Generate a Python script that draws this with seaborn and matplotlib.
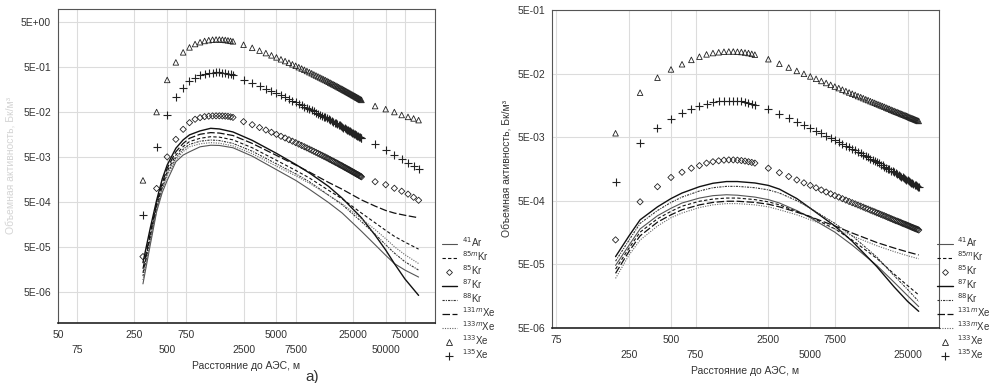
import numpy as np
import pandas as pd
import seaborn as sns
import matplotlib.pyplot as plt
from matplotlib.lines import Line2D
from matplotlib.ticker import NullLocator

# distances, m
x_near_a = [300, 400, 500, 600, 700, 800, 900, 1000, 1100, 1200, 1300, 1400, 1500,
            1600, 1700, 1800, 1900, 2000]
x_near_b = [200] + x_near_a
x_mid = [2500, 3000, 3500, 4000, 4500, 5000, 5500, 6000, 6500, 7000, 7500, 8000,
         8500, 9000, 9500, 10000, 10500, 11000, 11500, 12000, 12500, 13000, 13500,
         14000, 14500, 15000, 15500, 16000, 16500, 17000, 17500, 18000, 18500,
         19000, 19500, 20000, 20500, 21000, 21500, 22000, 22500, 23000, 23500,
         24000, 24500, 25000, 25500, 26000, 26500, 27000, 27500, 28000, 28500,
         29000, 29500, 30000]
x_far = [40000, 50000, 60000, 70000, 80000, 90000, 100000]

x_a = x_near_a + x_mid + x_far
x_b = x_near_b + x_mid

# panel a) markers
xe133_a = [1.5e-3, 5.0e-2, 0.26, 0.64, 1.07, 1.38, 1.64, 1.80, 1.92, 2.0, 2.05, 2.07, 2.07,
           2.05, 2.02, 1.98, 1.93, 1.88,
           1.58, 1.35, 1.17, 1.03, 0.918, 0.826, 0.748, 0.684, 0.628, 0.579, 0.537, 0.500,
           0.467, 0.437, 0.411, 0.387, 0.366, 0.345, 0.327, 0.311, 0.296, 0.282, 0.269,
           0.258, 0.247, 0.236, 0.226, 0.217, 0.209, 0.201, 0.194, 0.187, 0.180, 0.174,
           0.168, 0.163, 0.157, 0.152, 0.148, 0.143, 0.139, 0.135, 0.131, 0.127, 0.124,
           0.120, 0.117, 0.114, 0.111, 0.108, 0.105, 0.103, 0.100, 0.0977, 0.0953, 0.0931,
           0.068, 0.058, 0.050, 0.043, 0.039, 0.036, 0.033]
xe135_a = [2.6e-4, 8.3e-3, 4.2e-2, 0.109, 0.17, 0.24, 0.29, 0.33, 0.355, 0.37, 0.38, 0.385,
           0.385, 0.38, 0.37, 0.36, 0.345, 0.33,
           0.261, 0.220, 0.188, 0.165, 0.146, 0.130, 0.117, 0.107, 0.0973, 0.0892, 0.0822,
           0.0765, 0.0710, 0.0664, 0.0621, 0.0584, 0.0549, 0.0518, 0.0487, 0.0463, 0.0438,
           0.0417, 0.0395, 0.0379, 0.0363, 0.0345, 0.0330, 0.0317, 0.0303, 0.0291, 0.0281,
           0.0269, 0.0259, 0.0251, 0.0240, 0.0233, 0.0225, 0.0216, 0.0210, 0.0203, 0.0197,
           0.0192, 0.0185, 0.0179, 0.0175, 0.0169, 0.0165, 0.0160, 0.0155, 0.0151, 0.0147,
           0.0144, 0.0140, 0.0137, 0.0133, 0.0130,
           9.7e-3, 7.1e-3, 5.6e-3, 4.5e-3, 3.6e-3, 3.1e-3, 2.7e-3]
kr85_a = [3.0e-5, 9.9e-4, 5.0e-3, 1.23e-2, 2.06e-2, 2.9e-2, 3.45e-2, 3.75e-2, 3.95e-2,
          4.05e-2, 4.1e-2, 4.12e-2, 4.12e-2, 4.1e-2, 4.05e-2, 4.0e-2, 3.9e-2, 3.8e-2,
          3.05e-2, 2.61e-2, 2.26e-2, 1.99e-2, 1.77e-2, 1.59e-2, 1.44e-2, 1.32e-2, 1.21e-2,
          1.12e-2, 1.04e-2, 9.65e-3, 9.01e-3, 8.43e-3, 7.93e-3, 7.47e-3, 7.06e-3, 6.66e-3,
          6.31e-3, 6.00e-3, 5.71e-3, 5.44e-3, 5.19e-3, 4.98e-3, 4.77e-3, 4.55e-3, 4.36e-3,
          4.19e-3, 4.03e-3, 3.88e-3, 3.74e-3, 3.61e-3, 3.47e-3, 3.36e-3, 3.24e-3, 3.15e-3,
          3.03e-3, 2.93e-3, 2.86e-3, 2.76e-3, 2.68e-3, 2.61e-3, 2.53e-3, 2.45e-3, 2.39e-3,
          2.32e-3, 2.26e-3, 2.20e-3, 2.14e-3, 2.08e-3, 2.03e-3, 1.99e-3, 1.93e-3, 1.89e-3,
          1.84e-3, 1.80e-3,
          1.4e-3, 1.2e-3, 1.0e-3, 8.6e-4, 7.4e-4, 6.3e-4, 5.4e-4]

# panel a) lines
xl_a = [300, 350, 400, 450, 500, 600, 700, 800, 1000, 1250, 1500, 2000, 3000, 5000,
        7500, 10000, 15000, 20000, 30000, 40000, 50000, 60000, 75000, 100000]
kr87_a = [2.2e-5, 1.3e-4, 5.4e-4, 1.6e-3, 3.3e-3, 7.8e-3, 1.2e-2, 1.55e-2, 1.9e-2, 2.17e-2,
          2.1e-2, 1.8e-2, 1.17e-2, 6.0e-3, 3.4e-3, 2.2e-3, 1.1e-3, 6.0e-4, 2.2e-4, 9.0e-5,
          4.2e-5, 2.1e-5, 9.5e-6, 4.1e-6]
xe131m_a = [1.6e-5, 1.0e-4, 4.6e-4, 1.3e-3, 2.8e-3, 6.5e-3, 1.0e-2, 1.3e-2, 1.6e-2, 1.74e-2,
            1.7e-2, 1.5e-2, 1.0e-2, 5.4e-3, 3.3e-3, 2.3e-3, 1.35e-3, 9.5e-4, 5.5e-4, 4.0e-4,
            3.2e-4, 2.8e-4, 2.5e-4, 2.2e-4]
kr85m_a = [1.3e-5, 8.5e-5, 4.0e-4, 1.1e-3, 2.4e-3, 5.5e-3, 8.5e-3, 1.1e-2, 1.3e-2, 1.41e-2,
           1.38e-2, 1.2e-2, 8.0e-3, 4.2e-3, 2.5e-3, 1.7e-3, 9.0e-4, 5.8e-4, 2.8e-4, 1.7e-4,
           1.15e-4, 8.5e-5, 6.3e-5, 4.4e-5]
kr88_a = [1.1e-5, 7.5e-5, 3.6e-4, 1.0e-3, 2.1e-3, 4.8e-3, 7.4e-3, 9.5e-3, 1.12e-2, 1.19e-2,
          1.16e-2, 1.0e-2, 6.7e-3, 3.5e-3, 2.1e-3, 1.4e-3, 7.0e-4, 4.3e-4, 1.8e-4, 9.5e-5,
          5.5e-5, 3.6e-5, 2.3e-5, 1.5e-5]
xe133m_a = [9e-6, 6.5e-5, 3.2e-4, 9.0e-4, 1.9e-3, 4.3e-3, 6.6e-3, 8.4e-3, 9.8e-3, 1.04e-2,
            1.01e-2, 8.8e-3, 5.9e-3, 3.1e-3, 1.9e-3, 1.3e-3, 7.0e-4, 4.5e-4, 2.1e-4, 1.2e-4,
            7.5e-5, 5.0e-5, 3.3e-5, 2.1e-5]
ar41_a = [7.4e-6, 5.5e-5, 3.0e-4, 8.0e-4, 1.5e-3, 3.9e-3, 5.5e-3, 6.5e-3, 8.4e-3, 9.1e-3,
          9.0e-3, 8.0e-3, 5.2e-3, 2.6e-3, 1.5e-3, 9.5e-4, 4.8e-4, 2.8e-4, 1.1e-4, 5.5e-5,
          3.2e-5, 2.1e-5, 1.5e-5, 1.05e-5]

# panel b) markers
xe133_b = [5.75e-3, 2.5e-2, 4.3e-2, 5.8e-2, 7.0e-2, 8.2e-2, 9.2e-2, 0.100, 0.105, 0.108,
           0.110, 0.111, 0.111, 0.110, 0.109, 0.107, 0.105, 0.102, 0.099,
           0.0840, 0.0713, 0.0621, 0.0550, 0.0495, 0.0450, 0.0413, 0.0382, 0.0355, 0.0332,
           0.0312, 0.0295, 0.0279, 0.0265, 0.0252, 0.0241, 0.0231, 0.0221, 0.0213, 0.0205,
           0.0197, 0.0191, 0.0184, 0.0178, 0.0173, 0.0167, 0.0163, 0.0158, 0.0154, 0.0150,
           0.0146, 0.0142, 0.0139, 0.0135, 0.0132, 0.0129, 0.0126, 0.0124, 0.0121, 0.0119,
           0.0116, 0.0114, 0.0112, 0.0110, 0.0108, 0.0106, 0.0104, 0.0102, 0.0100, 0.00986,
           0.00970, 0.00954, 0.00939, 0.00925, 0.00911, 0.00897]
xe135_b = [1.0e-3, 4.1e-3, 7.0e-3, 9.5e-3, 1.19e-2, 1.39e-2, 1.55e-2, 1.68e-2, 1.77e-2,
           1.83e-2, 1.86e-2, 1.87e-2, 1.87e-2, 1.85e-2, 1.82e-2, 1.78e-2, 1.73e-2, 1.67e-2,
           1.61e-2,
           1.369e-2, 1.159e-2, 1.001e-2, 8.78e-3, 7.81e-3, 7.01e-3, 6.34e-3, 5.78e-3,
           5.30e-3, 4.89e-3, 4.53e-3, 4.23e-3, 3.94e-3, 3.69e-3, 3.47e-3, 3.27e-3, 3.09e-3,
           2.92e-3, 2.78e-3, 2.64e-3, 2.51e-3, 2.40e-3, 2.29e-3, 2.19e-3, 2.10e-3, 2.00e-3,
           1.93e-3, 1.85e-3, 1.79e-3, 1.72e-3, 1.66e-3, 1.59e-3, 1.55e-3, 1.49e-3, 1.44e-3,
           1.39e-3, 1.35e-3, 1.31e-3, 1.27e-3, 1.23e-3, 1.19e-3, 1.16e-3, 1.13e-3, 1.10e-3,
           1.07e-3, 1.04e-3, 1.01e-3, 9.84e-4, 9.57e-4, 9.36e-4, 9.13e-4, 8.90e-4, 8.69e-4,
           8.49e-4, 8.29e-4, 8.10e-4]
kr85_b = [1.21e-4, 4.8e-4, 8.3e-4, 1.16e-3, 1.4e-3, 1.62e-3, 1.78e-3, 1.95e-3, 2.05e-3,
          2.12e-3, 2.17e-3, 2.19e-3, 2.19e-3, 2.17e-3, 2.14e-3, 2.10e-3, 2.05e-3, 2.0e-3,
          1.95e-3,
          1.62e-3, 1.38e-3, 1.20e-3, 1.06e-3, 9.55e-4, 8.69e-4, 7.97e-4, 7.37e-4, 6.85e-4,
          6.41e-4, 6.02e-4, 5.69e-4, 5.38e-4, 5.11e-4, 4.86e-4, 4.65e-4, 4.46e-4, 4.27e-4,
          4.11e-4, 3.96e-4, 3.80e-4, 3.69e-4, 3.55e-4, 3.44e-4, 3.34e-4, 3.22e-4, 3.15e-4,
          3.05e-4, 2.97e-4, 2.90e-4, 2.82e-4, 2.74e-4, 2.68e-4, 2.61e-4, 2.55e-4, 2.49e-4,
          2.43e-4, 2.39e-4, 2.34e-4, 2.30e-4, 2.24e-4, 2.20e-4, 2.16e-4, 2.12e-4, 2.08e-4,
          2.05e-4, 2.01e-4, 1.97e-4, 1.93e-4, 1.90e-4, 1.87e-4, 1.84e-4, 1.81e-4, 1.79e-4,
          1.76e-4, 1.73e-4]

# panel b) lines
xl_b = [200, 250, 300, 400, 500, 600, 800, 1000, 1250, 1500, 2000, 2500, 3000, 4000,
        5000, 7500, 10000, 15000, 20000, 25000, 30000]
kr87_b = [6.6e-5, 1.4e-4, 2.5e-4, 4.0e-4, 5.4e-4, 6.6e-4, 8.3e-4, 9.4e-4, 1.0e-3, 1.0e-3,
          9.5e-4, 8.7e-4, 7.6e-4, 5.4e-4, 3.8e-4, 2.0e-4, 1.15e-4, 4.6e-5, 2.2e-5, 1.3e-5,
          9.1e-6]
kr88_b = [5.6e-5, 1.2e-4, 2.2e-4, 3.5e-4, 4.7e-4, 5.7e-4, 7.1e-4, 8.0e-4, 8.4e-4, 8.4e-4,
          8.0e-4, 7.4e-4, 6.6e-4, 5.0e-4, 3.8e-4, 2.2e-4, 1.4e-4, 6.5e-5, 3.3e-5, 2.0e-5,
          1.3e-5]
ar41_b = [4.8e-5, 1.0e-4, 1.8e-4, 2.9e-4, 3.8e-4, 4.6e-4, 5.5e-4, 6.0e-4, 6.2e-4, 6.1e-4,
          5.7e-4, 5.2e-4, 4.6e-4, 3.5e-4, 2.7e-4, 1.6e-4, 1.0e-4, 4.8e-5, 2.6e-5, 1.6e-5,
          1.08e-5]
kr85m_b = [4.2e-5, 9e-5, 1.6e-4, 2.6e-4, 3.4e-4, 4.1e-4, 4.9e-4, 5.3e-4, 5.5e-4, 5.5e-4,
           5.2e-4, 4.8e-4, 4.3e-4, 3.4e-4, 2.8e-4, 1.8e-4, 1.2e-4, 6.2e-5, 3.5e-5, 2.3e-5,
           1.65e-5]
xe131m_b = [3.6e-5, 8e-5, 1.4e-4, 2.3e-4, 3.0e-4, 3.6e-4, 4.3e-4, 4.7e-4, 4.9e-4, 4.9e-4,
            4.7e-4, 4.4e-4, 4.0e-4, 3.3e-4, 2.8e-4, 2.0e-4, 1.55e-4, 1.1e-4, 9.0e-5, 7.8e-5,
            7.0e-5]
xe133m_b = [3.0e-5, 7e-5, 1.2e-4, 2.0e-4, 2.7e-4, 3.2e-4, 3.9e-4, 4.3e-4, 4.5e-4, 4.5e-4,
            4.3e-4, 4.0e-4, 3.6e-4, 3.0e-4, 2.5e-4, 1.8e-4, 1.4e-4, 9.8e-5, 7.9e-5, 6.8e-5,
            6.1e-5]

# tick labels, upper and lower row
ticks_a_top = [50, 250, 750, 5000, 25000, 75000]
ticks_a_bot = [75, 500, 2500, 7500, 50000]
ticks_b_top = [75, 500, 2500, 7500]
ticks_b_bot = [250, 750, 5000, 25000]
yticks_a = [5e-6, 5e-5, 5e-4, 5e-3, 5e-2, 5e-1, 5e0]
ylabels_a = ["5E-06", "5E-05", "5E-04", "5E-03", "5E-02", "5E-01", "5E+00"]
yticks_b = [5e-6, 5e-5, 5e-4, 5e-3, 5e-2, 5e-1]
ylabels_b = ["5E-06", "5E-05", "5E-04", "5E-03", "5E-02", "5E-01"]

labels = [r"$^{41}$Ar", r"$^{85m}$Kr", r"$^{85}$Kr", r"$^{87}$Kr", r"$^{88}$Kr",
          r"$^{131m}$Xe", r"$^{133m}$Xe", r"$^{133}$Xe", r"$^{135}$Xe"]

sns.set_style("white")
plt.rcParams['font.family'] = ['Liberation Sans', 'DejaVu Sans']

line_styles = {
    "ar41": dict(color="#555555", lw=0.8, ls="-"),
    "kr85m": dict(color="#111111", lw=0.8, ls=(0, (3, 2))),
    "kr87": dict(color="#111111", lw=1.0, ls="-"),
    "kr88": dict(color="#333333", lw=0.8, ls=(0, (2, 1, 1, 1))),
    "xe131m": dict(color="#111111", lw=0.9, ls=(0, (6, 2))),
    "xe133m": dict(color="#666666", lw=0.8, ls=(0, (1, 1.2))),
}
mk_c = "#222222"
txt_c = "#333333"


def draw_panel(ax, x, xl, lines, xe133, xe135, kr85):
    for key, y in lines:
        sns.lineplot(x=xl, y=y, ax=ax, sort=False, estimator=None, **line_styles[key])
    sns.scatterplot(x=x, y=kr85, ax=ax, marker="D", s=10, facecolor="none",
                    edgecolor=mk_c, linewidth=0.6)
    sns.scatterplot(x=x, y=xe133, ax=ax, marker="^", s=16, facecolor="none",
                    edgecolor=mk_c, linewidth=0.6)
    sns.scatterplot(x=x, y=xe135, ax=ax, marker="+", s=36, color=mk_c, linewidth=0.8)


def style_axis(ax, xt_top, xt_bot, yt, ylab, xlim, ylim):
    ax.set_xscale("log")
    ax.set_yscale("log")
    ax.set_xlim(*xlim)
    ax.set_ylim(*ylim)
    ax.set_xticks(xt_top)
    ax.set_xticklabels([str(t) for t in xt_top])
    ax.set_xticks(xt_bot, minor=True)
    ax.set_xticklabels([str(t) for t in xt_bot], minor=True)
    ax.set_yticks(yt)
    ax.set_yticklabels(ylab)
    ax.yaxis.set_minor_locator(NullLocator())
    ax.grid(True, which="both", color="#dcdcdc", lw=0.8)
    ax.tick_params(axis="both", which="both", labelsize=7.5, colors=txt_c, length=0)
    ax.tick_params(axis="x", which="major", pad=5)
    ax.tick_params(axis="x", which="minor", pad=16)
    ax.tick_params(axis="y", pad=5)
    for s in ["top", "right", "left"]:
        ax.spines[s].set_color("#555555")
        ax.spines[s].set_linewidth(0.8)
    ax.spines["bottom"].set_color("#222222")
    ax.spines["bottom"].set_linewidth(1.2)
    ax.set_xlabel("Расстояние до АЭС, м", fontsize=7.5, color=txt_c, labelpad=4)


fig = plt.figure(figsize=(9.99, 3.83), dpi=100)
ax1 = fig.add_axes([0.058, 0.157, 0.377, 0.820])
ax2 = fig.add_axes([0.5526, 0.144, 0.3874, 0.830])

draw_panel(ax1, x_a, xl_a,
           [("ar41", ar41_a), ("kr85m", kr85m_a), ("kr87", kr87_a), ("kr88", kr88_a),
            ("xe131m", xe131m_a), ("xe133m", xe133m_a)],
           xe133_a, xe135_a, kr85_a)
draw_panel(ax2, x_b, xl_b,
           [("ar41", ar41_b), ("kr85m", kr85m_b), ("kr87", kr87_b), ("kr88", kr88_b),
            ("xe131m", xe131m_b), ("xe133m", xe133m_b)],
           xe133_b, xe135_b, kr85_b)

style_axis(ax1, ticks_a_top, ticks_a_bot, yticks_a, ylabels_a, (50, 140000), (1e-6, 10))
style_axis(ax2, ticks_b_top, ticks_b_bot, yticks_b, ylabels_b, (70, 42000), (5e-6, 0.5))
ax1.set_ylabel("Объемная активность, Бк/м³", fontsize=7.5, color="#d4d4d4")
ax2.set_ylabel("Объемная активность, Бк/м³", fontsize=7.5, color=txt_c)

# legends
handles = [
    Line2D([], [], **line_styles["ar41"]),
    Line2D([], [], **line_styles["kr85m"]),
    Line2D([], [], marker="D", ms=3, mfc="none", mec=mk_c, ls="none", mew=0.6),
    Line2D([], [], **line_styles["kr87"]),
    Line2D([], [], **line_styles["kr88"]),
    Line2D([], [], **line_styles["xe131m"]),
    Line2D([], [], **line_styles["xe133m"]),
    Line2D([], [], marker="^", ms=4, mfc="none", mec=mk_c, ls="none", mew=0.6),
    Line2D([], [], marker="+", ms=6, color=mk_c, ls="none", mew=0.8),
]
for xpos in [0.442, 0.938]:
    fig.legend(handles, labels, loc="upper left", bbox_to_anchor=(xpos, 0.386),
               frameon=False, fontsize=7, labelspacing=0.02, handlelength=1.6,
               handletextpad=0.5, borderaxespad=0, borderpad=0, labelcolor=txt_c)

fig.text(0.313, 0.033, "а)", fontsize=11, color=txt_c, va="top", ha="center")

fig.savefig("out.png", dpi=100)
